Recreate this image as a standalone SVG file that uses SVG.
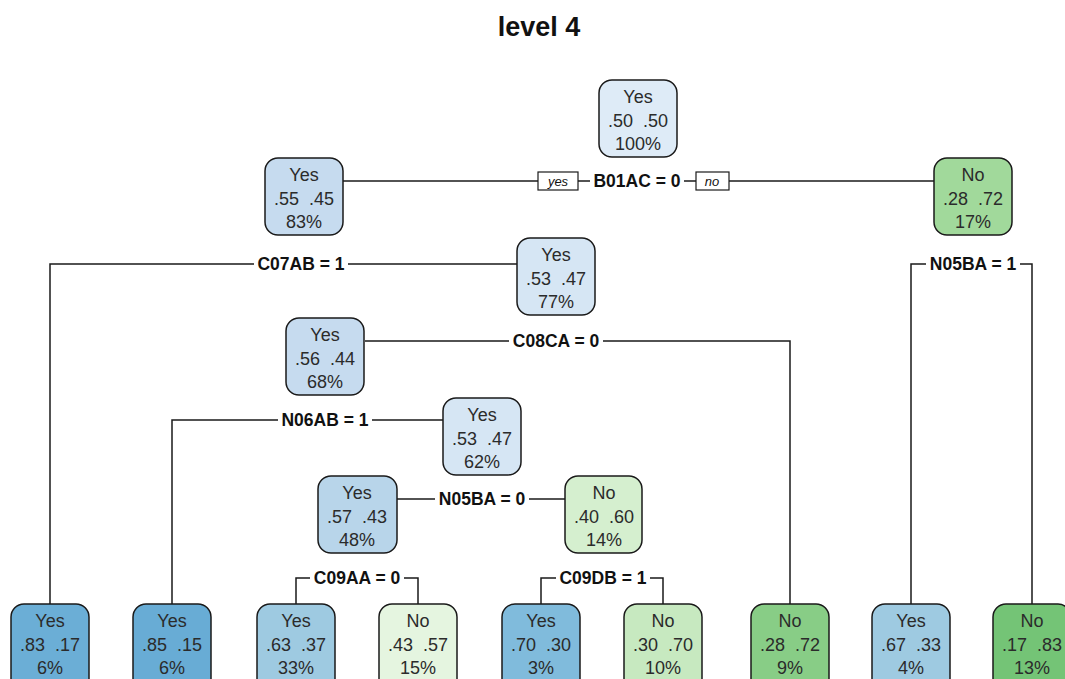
<svg xmlns="http://www.w3.org/2000/svg" width="1065" height="679" viewBox="0 0 1065 679">
  <style>
    .node rect { stroke: #1a1a1a; stroke-width: 1.5; }
    .node text { font-family: "Liberation Sans", Arial, sans-serif; font-size: 18px; fill: #2b2b2b; text-anchor: middle; white-space: pre; }
    .edge { fill: none; stroke: #1a1a1a; stroke-width: 1.5; }
    .split { font-family: "Liberation Sans", Arial, sans-serif; font-size: 17.5px; font-weight: bold; fill: #111; text-anchor: middle; }
    .lblbg { fill: #ffffff; stroke: none; }
    .yn rect { fill: #ffffff; stroke: #1a1a1a; stroke-width: 1.2; }
    .yn text { font-family: "Liberation Sans", Arial, sans-serif; font-size: 13px; font-style: italic; fill: #111; text-anchor: middle; }
    .title { font-family: "Liberation Sans", Arial, sans-serif; font-size: 27px; font-weight: bold; fill: #111; text-anchor: middle; }
  </style>

  <rect x="0" y="0" width="1065" height="679" fill="#ffffff"/>
  <text class="title" x="539" y="36">level 4</text>

  <!-- connectors -->
  <g id="connectors">
    <path class="edge" d="M343,181 H934"/>
    <path class="edge" d="M50,604 V264 H517"/>
    <path class="edge" d="M911,604 V264 H1032 V604"/>
    <path class="edge" d="M365,341 H790 V604"/>
    <path class="edge" d="M172,604 V420 H443"/>
    <path class="edge" d="M397,499 H565"/>
    <path class="edge" d="M296,604 V578 H418 V604"/>
    <path class="edge" d="M541,604 V578 H663 V604"/>

    <!-- split labels -->
    <rect class="lblbg" x="590" y="171" width="94" height="20"/>
    <text class="split" x="637" y="187">B01AC = 0</text>
    <g class="yn">
      <rect x="538" y="172" width="40" height="18"/>
      <text x="558" y="186">yes</text>
      <rect x="696" y="172" width="33" height="18"/>
      <text x="712" y="186">no</text>
    </g>
    <rect class="lblbg" x="254" y="254" width="94" height="20"/>
    <text class="split" x="301" y="270">C07AB = 1</text>
    <rect class="lblbg" x="926" y="254" width="94" height="20"/>
    <text class="split" x="973" y="270">N05BA = 1</text>
    <rect class="lblbg" x="509" y="331" width="94" height="20"/>
    <text class="split" x="556" y="347">C08CA = 0</text>
    <rect class="lblbg" x="278" y="410" width="94" height="20"/>
    <text class="split" x="325" y="426">N06AB = 1</text>
    <rect class="lblbg" x="435" y="489" width="94" height="20"/>
    <text class="split" x="482" y="505">N05BA = 0</text>
    <rect class="lblbg" x="310" y="568" width="94" height="20"/>
    <text class="split" x="357" y="584">C09AA = 0</text>
    <rect class="lblbg" x="556" y="568" width="94" height="20"/>
    <text class="split" x="603" y="584">C09DB = 1</text>
  </g>

  <!-- internal nodes -->
  <g id="node1" class="node">
    <rect x="599" y="80" width="78" height="77" rx="13" fill="#deebf7"/>
    <text x="638" y="103">Yes</text>
    <text x="638" y="127">.50  .50</text>
    <text x="638" y="150">100%</text>
  </g>
  <g id="node2" class="node">
    <rect x="265" y="158" width="78" height="77" rx="13" fill="#c6dbef"/>
    <text x="304" y="181">Yes</text>
    <text x="304" y="205">.55  .45</text>
    <text x="304" y="228">83%</text>
  </g>
  <g id="node3" class="node">
    <rect x="934" y="158" width="78" height="77" rx="13" fill="#a1d99b"/>
    <text x="973" y="181">No</text>
    <text x="973" y="205">.28  .72</text>
    <text x="973" y="228">17%</text>
  </g>
  <g id="node4" class="node">
    <rect x="517" y="238" width="78" height="77" rx="13" fill="#d6e6f4"/>
    <text x="556" y="261">Yes</text>
    <text x="556" y="285">.53  .47</text>
    <text x="556" y="308">77%</text>
  </g>
  <g id="node5" class="node">
    <rect x="286" y="318" width="78" height="77" rx="13" fill="#c6dbef"/>
    <text x="325" y="341">Yes</text>
    <text x="325" y="365">.56  .44</text>
    <text x="325" y="388">68%</text>
  </g>
  <g id="node6" class="node">
    <rect x="443" y="398" width="78" height="77" rx="13" fill="#d6e6f4"/>
    <text x="482" y="421">Yes</text>
    <text x="482" y="445">.53  .47</text>
    <text x="482" y="468">62%</text>
  </g>
  <g id="node7" class="node">
    <rect x="318" y="476" width="79" height="77" rx="13" fill="#b8d5ea"/>
    <text x="357" y="499">Yes</text>
    <text x="357" y="523">.57  .43</text>
    <text x="357" y="546">48%</text>
  </g>
  <g id="node8" class="node">
    <rect x="565" y="476" width="77" height="77" rx="13" fill="#d5efcf"/>
    <text x="604" y="499">No</text>
    <text x="604" y="523">.40  .60</text>
    <text x="604" y="546">14%</text>
  </g>

  <!-- leaves -->
  <g id="leaf1" class="node">
    <rect x="11" y="604" width="78" height="90" rx="13" fill="#6baed6"/>
    <text x="50" y="627">Yes</text>
    <text x="50" y="651">.83  .17</text>
    <text x="50" y="674">6%</text>
  </g>
  <g id="leaf2" class="node">
    <rect x="133" y="604" width="78" height="90" rx="13" fill="#68acd5"/>
    <text x="172" y="627">Yes</text>
    <text x="172" y="651">.85  .15</text>
    <text x="172" y="674">6%</text>
  </g>
  <g id="leaf3" class="node">
    <rect x="257" y="604" width="78" height="90" rx="13" fill="#9ecae1"/>
    <text x="296" y="627">Yes</text>
    <text x="296" y="651">.63  .37</text>
    <text x="296" y="674">33%</text>
  </g>
  <g id="leaf4" class="node">
    <rect x="379" y="604" width="78" height="90" rx="13" fill="#e5f5e0"/>
    <text x="418" y="627">No</text>
    <text x="418" y="651">.43  .57</text>
    <text x="418" y="674">15%</text>
  </g>
  <g id="leaf5" class="node">
    <rect x="502" y="604" width="78" height="90" rx="13" fill="#80bbdc"/>
    <text x="541" y="627">Yes</text>
    <text x="541" y="651">.70  .30</text>
    <text x="541" y="674">3%</text>
  </g>
  <g id="leaf6" class="node">
    <rect x="624" y="604" width="78" height="90" rx="13" fill="#c7e9c0"/>
    <text x="663" y="627">No</text>
    <text x="663" y="651">.30  .70</text>
    <text x="663" y="674">10%</text>
  </g>
  <g id="leaf7" class="node">
    <rect x="751" y="604" width="78" height="90" rx="13" fill="#88cd86"/>
    <text x="790" y="627">No</text>
    <text x="790" y="651">.28  .72</text>
    <text x="790" y="674">9%</text>
  </g>
  <g id="leaf8" class="node">
    <rect x="872" y="604" width="78" height="90" rx="13" fill="#9ecae1"/>
    <text x="911" y="627">Yes</text>
    <text x="911" y="651">.67  .33</text>
    <text x="911" y="674">4%</text>
  </g>
  <g id="leaf9" class="node">
    <rect x="993" y="604" width="78" height="90" rx="13" fill="#74c476"/>
    <text x="1032" y="627">No</text>
    <text x="1032" y="651">.17  .83</text>
    <text x="1032" y="674">13%</text>
  </g>
</svg>
